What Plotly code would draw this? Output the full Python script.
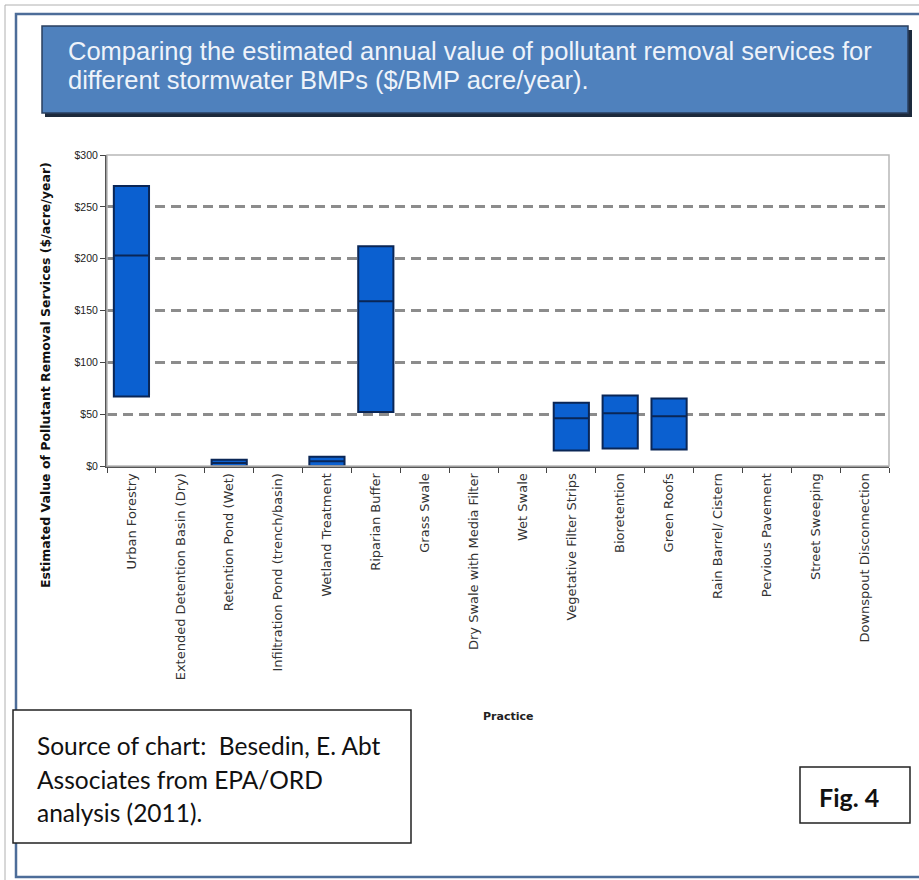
import plotly.graph_objects as go

# ---- data ----
practices = [
    "Urban Forestry", "Extended Detention Basin (Dry)", "Retention Pond (Wet)",
    "Infiltration Pond (trench/basin)", "Wetland Treatment", "Riparian Buffer",
    "Grass Swale", "Dry Swale with Media Filter", "Wet Swale",
    "Vegetative Filter Strips", "Bioretention", "Green Roofs",
    "Rain Barrel/ Cistern", "Pervious Pavement", "Street Sweeping",
    "Downspout Disconnection",
]
valued_practices = ["Urban Forestry", "Retention Pond (Wet)", "Wetland Treatment",
                    "Riparian Buffer", "Vegetative Filter Strips", "Bioretention",
                    "Green Roofs"]
low_values = [67, 0, 0, 52, 15, 17, 16]
mid_values = [203, 3, 4.5, 159, 46, 51, 48]
high_values = [270, 6, 9, 212, 61, 68, 65]
y_ticks = [0, 50, 100, 150, 200, 250, 300]

title_lines = ["Comparing the estimated annual value of pollutant removal services for",
               "different stormwater BMPs ($/BMP acre/year)."]
source_lines = ["Source of chart:  Besedin, E. Abt", "Associates from EPA/ORD", "analysis (2011)."]

W, H = 919, 880
L, R, T, B = 107, 889, 155, 466  # plot area in pixels


def px(x):
    return (x - L) / (R - L)


def py(y):
    return (B - y) / (B - T)


fig = go.Figure()
fig.add_trace(go.Box(
    x=valued_practices, q1=low_values, median=mid_values, q3=high_values,
    lowerfence=low_values, upperfence=high_values,
    fillcolor="#0b60d0", line=dict(color="#0a2656", width=2),
    width=0.72, boxpoints=False, showlegend=False,
))

shapes = []
# outer frames
shapes.append(dict(type="rect", xref="paper", yref="paper", x0=px(5), x1=px(930), y0=py(5), y1=py(900),
                   line=dict(color="#b0b0b0", width=1), layer="below"))
shapes.append(dict(type="rect", xref="paper", yref="paper", x0=px(16), x1=px(930), y0=py(14), y1=py(877),
                   line=dict(color="#4d6d99", width=2.5), layer="below"))
# title box shadow + box
shapes.append(dict(type="rect", xref="paper", yref="paper", x0=px(45), x1=px(912), y0=py(30), y1=py(117),
                   fillcolor="#1d2a3c", line=dict(width=0), layer="below"))
shapes.append(dict(type="rect", xref="paper", yref="paper", x0=px(42), x1=px(908), y0=py(26), y1=py(113),
                   fillcolor="#4f81bd", line=dict(color="#2a3f5f", width=1.5), layer="below"))
# plot border (top/right)
shapes.append(dict(type="rect", xref="paper", yref="paper", x0=0, x1=1, y0=0, y1=1,
                   line=dict(color="#b8b8b8", width=1.5), layer="above"))
# source box
shapes.append(dict(type="rect", xref="paper", yref="paper", x0=px(13), x1=px(411), y0=py(710), y1=py(843),
                   fillcolor="white", line=dict(color="#222", width=1.5), layer="above"))
# fig 4 box
shapes.append(dict(type="rect", xref="paper", yref="paper", x0=px(800), x1=px(910), y0=py(767), y1=py(823),
                   fillcolor="white", line=dict(color="#222", width=1.5), layer="above"))

annotations = []
for i, line in enumerate(title_lines):
    annotations.append(dict(text=line, xref="paper", yref="paper", x=px(66), y=py(51 + 29 * i),
                            xanchor="left", yanchor="middle", align="left", showarrow=False,
                            font=dict(family="Liberation Sans, Arial", size=25.5, color="#eef3fa")))
annotations += [
    dict(text="<b>Estimated Value of Pollutant Removal Services ($/acre/year)</b>", xref="paper", yref="paper",
         x=px(45), y=py(375), xanchor="center", yanchor="middle", textangle=-90, showarrow=False,
         font=dict(family="DejaVu Sans", size=12.5, color="#111")),
    dict(text="<b>Practice</b>", xref="paper", yref="paper", x=px(508), y=py(716),
         xanchor="center", yanchor="middle", showarrow=False,
         font=dict(family="DejaVu Sans", size=11, color="#222")),
    dict(text="<b>Fig. 4</b>", xref="paper", yref="paper", x=px(849), y=py(797),
         xanchor="center", yanchor="middle", showarrow=False,
         font=dict(family="Lato", size=25, color="#111")),
]
for i, line in enumerate(source_lines):
    annotations.append(dict(text=line, xref="paper", yref="paper", x=px(35), y=py(745 + 34 * i),
                            xanchor="left", yanchor="middle", align="left", showarrow=False,
                            font=dict(family="Lato", size=24.5, color="#111")))

fig.update_layout(
    width=W, height=H, margin=dict(l=L, r=W - R, t=T, b=H - B),
    paper_bgcolor="white", plot_bgcolor="white",
    shapes=shapes, annotations=annotations, showlegend=False,
    xaxis=dict(type="category", categoryorder="array", categoryarray=practices,
               tickvals=practices, ticktext=practices, range=[-0.5, 15.5],
               tickson="boundaries", ticks="outside", ticklen=5, tickcolor="#444",
               tickangle=-90, tickfont=dict(family="DejaVu Sans", size=13, color="#333"),
               showline=True, linecolor="#555", linewidth=2, showgrid=False),
    yaxis=dict(range=[0, 300], tickvals=y_ticks, ticktext=[f"${v}" for v in y_ticks],
               ticks="outside", ticklen=5, tickcolor="#444", showline=True, linecolor="#555", linewidth=2,
               tickfont=dict(family="Liberation Sans", size=10.5, color="#222"),
               showgrid=True, gridcolor="#8c8c8c", gridwidth=2.5, griddash="10px,6px", zeroline=False),
)

fig.write_html("out.html")
